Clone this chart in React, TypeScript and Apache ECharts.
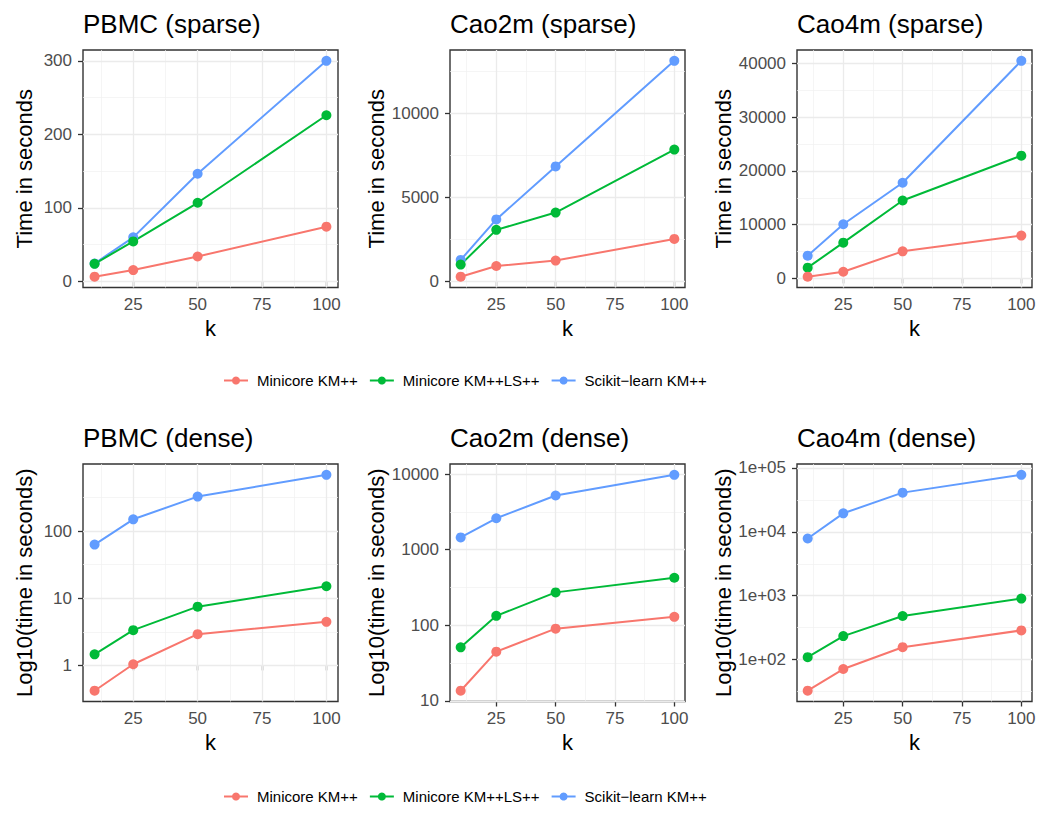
import React, { useEffect, useRef } from "react";
import * as echarts from "echarts";

// ---------- data ----------
const kValues = [10, 25, 50, 100];
const seriesNames = ["Minicore KM++", "Minicore KM++LS++", "Scikit\u2212learn KM++"];
const seriesColors = ["#F8766D", "#00BA38", "#619CFF"];

// sparse panels: time in seconds
const pbmcSparseKM = [6.5, 15.5, 34, 74.5];
const pbmcSparseLS = [24, 54.5, 107, 226];
const pbmcSparseSK = [24.5, 60, 146.5, 300];
const cao2mSparseKM = [280, 920, 1240, 2530];
const cao2mSparseLS = [1000, 3070, 4100, 7850];
const cao2mSparseSK = [1280, 3690, 6850, 13140];
const cao4mSparseKM = [320, 1250, 5040, 7970];
const cao4mSparseLS = [2000, 6660, 14500, 22840];
const cao4mSparseSK = [4240, 10080, 17800, 40490];

// dense panels: time in seconds (log10 axis)
const pbmcDenseKM = [0.42, 1.04, 2.92, 4.46];
const pbmcDenseLS = [1.46, 3.35, 7.5, 15.1];
const pbmcDenseSK = [63, 150, 327, 690];
const cao2mDenseKM = [13.6, 44.7, 90, 129];
const cao2mDenseLS = [51, 133, 272, 425];
const cao2mDenseSK = [1450, 2600, 5200, 9780];
const cao4mDenseKM = [32.5, 71, 156, 286];
const cao4mDenseLS = [109, 233, 481, 900];
const cao4mDenseSK = [7870, 19500, 41100, 78200];

// ticks
const xMajorTicks = [25, 50, 75, 100];
const xMinorTicks = [12.5, 37.5, 62.5, 87.5];
const pbmcSparseTicks = [0, 100, 200, 300];
const pbmcSparseMinor = [50, 150, 250];
const cao2mSparseTicks = [0, 5000, 10000];
const cao2mSparseMinor = [2500, 7500, 12500];
const cao4mSparseTicks = [0, 10000, 20000, 30000, 40000];
const cao4mSparseMinor = [5000, 15000, 25000, 35000];
const pbmcDenseTicks = [1, 10, 100];
const pbmcDenseLabels = ["1", "10", "100"];
const pbmcDenseMinor = [0.5, 1.5, 2.5]; // log10 positions
const cao2mDenseTicks = [10, 100, 1000, 10000];
const cao2mDenseLabels = ["10", "100", "1000", "10000"];
const cao2mDenseMinor = [1.5, 2.5, 3.5];
const cao4mDenseTicks = [100, 1000, 10000, 100000];
const cao4mDenseLabels = ["1e+02", "1e+03", "1e+04", "1e+05"];
const cao4mDenseMinor = [1.5, 2.5, 3.5, 4.5];

const panelTitles = [
  "PBMC (sparse)", "Cao2m (sparse)", "Cao4m (sparse)",
  "PBMC (dense)", "Cao2m (dense)", "Cao4m (dense)",
];

// ---------- layout ----------
const FONT = "'Liberation Sans', Arial, sans-serif";
const panelLefts = [83, 450, 797];
const panelWidths = [255, 235, 235];
const rowTops = [50, 464];
const panelHeight = 237.5;
const titleTops = [11, 425];
const legendTops = [373, 789];

type Panel = {
  title: string;
  log: boolean;
  values: number[][];
  ticks: number[];
  labels: string[] | null;
  minor: number[];
  yName: string;
};

const panels: Panel[] = [
  { title: panelTitles[0], log: false, values: [pbmcSparseKM, pbmcSparseLS, pbmcSparseSK], ticks: pbmcSparseTicks, labels: null, minor: pbmcSparseMinor, yName: "Time in seconds" },
  { title: panelTitles[1], log: false, values: [cao2mSparseKM, cao2mSparseLS, cao2mSparseSK], ticks: cao2mSparseTicks, labels: null, minor: cao2mSparseMinor, yName: "Time in seconds" },
  { title: panelTitles[2], log: false, values: [cao4mSparseKM, cao4mSparseLS, cao4mSparseSK], ticks: cao4mSparseTicks, labels: null, minor: cao4mSparseMinor, yName: "Time in seconds" },
  { title: panelTitles[3], log: true, values: [pbmcDenseKM, pbmcDenseLS, pbmcDenseSK], ticks: pbmcDenseTicks, labels: pbmcDenseLabels, minor: pbmcDenseMinor, yName: "Log10(time in seconds)" },
  { title: panelTitles[4], log: true, values: [cao2mDenseKM, cao2mDenseLS, cao2mDenseSK], ticks: cao2mDenseTicks, labels: cao2mDenseLabels, minor: cao2mDenseMinor, yName: "Log10(time in seconds)" },
  { title: panelTitles[5], log: true, values: [cao4mDenseKM, cao4mDenseLS, cao4mDenseSK], ticks: cao4mDenseTicks, labels: cao4mDenseLabels, minor: cao4mDenseMinor, yName: "Log10(time in seconds)" },
];

function expand(vals: number[]): [number, number] {
  const mn = Math.min(...vals);
  const mx = Math.max(...vals);
  const pad = (mx - mn) * 0.05;
  return [mn - pad, mx + pad];
}

function buildOption() {
  const grids: any[] = [];
  const xAxes: any[] = [];
  const yAxes: any[] = [];
  const series: any[] = [];
  const titles: any[] = [];
  const [xMin, xMax] = expand(kValues);

  const majorStyle = { type: "solid", color: "#EBEBEB", width: 1.3 };
  const minorStyle = { type: "solid", color: "#F0F0F0", width: 0.7 };

  panels.forEach((p, i) => {
    const row = Math.floor(i / 3);
    const col = i % 3;
    const tf = (v: number) => (p.log ? Math.log10(v) : v);
    const allVals = p.values.flat().map(tf);
    const [yMin, yMax] = expand(allVals);
    const tickPos = p.ticks.map(tf);

    grids.push({
      left: panelLefts[col],
      top: rowTops[row],
      width: panelWidths[col],
      height: panelHeight,
      show: true,
      backgroundColor: "#ffffff",
      borderColor: "#333333",
      borderWidth: 1.4,
      containLabel: false,
      outerBoundsMode: "none",
    });

    titles.push({
      text: p.title,
      left: panelLefts[col],
      top: titleTops[row],
      padding: 0,
      textStyle: { fontSize: 26, fontWeight: "normal", color: "#000000", fontFamily: FONT },
    });

    xAxes.push({
      type: "value",
      gridIndex: i,
      min: xMin,
      max: xMax,
      axisLine: { show: false },
      axisTick: { show: true, customValues: xMajorTicks, length: 5, lineStyle: { color: "#333333", width: 1.3 } },
      axisLabel: {
        customValues: xMajorTicks,
        margin: 8,
        fontSize: 17,
        color: "#4D4D4D",
        fontFamily: FONT,
        formatter: (v: number) => String(v),
      },
      splitLine: { show: false },
      name: "k",
      nameLocation: "middle",
      nameGap: 30,
      nameTextStyle: { fontSize: 22, color: "#000000", fontFamily: FONT },
    });

    yAxes.push({
      type: "value",
      gridIndex: i,
      min: yMin,
      max: yMax,
      axisLine: { show: false },
      axisTick: { show: true, customValues: tickPos, length: 5, lineStyle: { color: "#333333", width: 1.3 } },
      axisLabel: {
        customValues: tickPos,
        margin: 11,
        fontSize: 17,
        color: "#4D4D4D",
        fontFamily: FONT,
        formatter: (v: number) => {
          if (!p.labels) return String(v);
          const idx = tickPos.findIndex((t) => Math.abs(t - v) < 1e-6);
          return idx >= 0 ? p.labels[idx] : "";
        },
      },
      splitLine: { show: false },
      name: p.yName,
      nameLocation: "middle",
      nameRotate: 90,
      nameGap: 48,
      nameTextStyle: { fontSize: 22, color: "#000000", fontFamily: FONT },
    });

    // grid lines (ggplot theme_bw style) via markLine on a helper series
    const gridLines: any[] = [];
    xMinorTicks.forEach((v) => gridLines.push({ xAxis: v, lineStyle: minorStyle }));
    p.minor.forEach((v) => gridLines.push({ yAxis: v, lineStyle: minorStyle }));
    xMajorTicks.forEach((v) => gridLines.push({ xAxis: v, lineStyle: majorStyle }));
    tickPos.forEach((v) => gridLines.push({ yAxis: v, lineStyle: majorStyle }));

    series.push({
      type: "line",
      xAxisIndex: i,
      yAxisIndex: i,
      data: [],
      silent: true,
      z: 1,
      markLine: {
        silent: true,
        z: 1,
        symbol: ["none", "none"],
        label: { show: false },
        emphasis: { disabled: true },
        animation: false,
        lineStyle: majorStyle,
        data: gridLines,
      },
    });

    // draw blue first, then green, then red
    [2, 1, 0].forEach((s) => {
      series.push({
        name: seriesNames[s],
        type: "line",
        xAxisIndex: i,
        yAxisIndex: i,
        data: kValues.map((k, j) => [k, tf(p.values[s][j])]),
        symbol: "circle",
        symbolSize: 10,
        showSymbol: true,
        lineStyle: { width: 2, color: seriesColors[s] },
        itemStyle: { color: seriesColors[s] },
        emphasis: { disabled: true },
        z: 3,
      });
    });
  });

  const legends = legendTops.map((t) => ({
    data: seriesNames,
    left: 223,
    top: t,
    padding: 0,
    itemWidth: 24,
    itemHeight: 10,
    itemGap: 11,
    selectedMode: false,
    textStyle: { fontSize: 15, color: "#000000", fontFamily: FONT, padding: [0, 0, 0, 4] },
  }));

  return {
    animation: false,
    backgroundColor: "#ffffff",
    textStyle: { fontFamily: FONT },
    title: titles,
    legend: legends,
    grid: grids,
    xAxis: xAxes,
    yAxis: yAxes,
    series,
  };
}

export default function App() {
  const ref = useRef<HTMLDivElement>(null);
  useEffect(() => {
    document.body.style.margin = "0";
    if (!ref.current) return;
    const chart = echarts.init(ref.current, null, { renderer: "svg" });
    chart.setOption(buildOption() as any);
    return () => chart.dispose();
  }, []);
  return <div ref={ref} style={{ width: 1050, height: 814 }} />;
}
